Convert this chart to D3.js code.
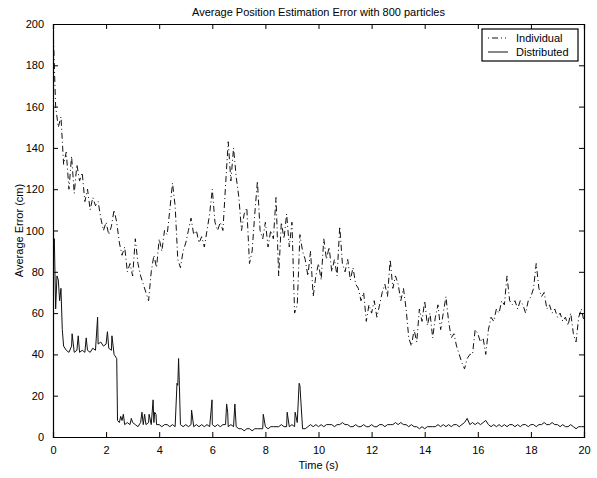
<!DOCTYPE html>
<html>
<head>
<meta charset="utf-8">
<script src="https://cdn.jsdelivr.net/npm/d3@7"></script>
<style>
  body { margin: 0; background: #fff; }
  text { font-family: "Liberation Sans", Arial, Helvetica, sans-serif; fill: #000; }
</style>
</head>
<body>
<script>
// Plot layout
var svgWidth = 597;
var svgHeight = 478;
var margin = {top: 24, right: 13, bottom: 41, left: 53};
var width = svgWidth - margin.left - margin.right;
var height = svgHeight - margin.top - margin.bottom;

// sample step of both series (s)
var step = 0.1;

// Individual filter error, one value every 0.1 s from 0 to 20 s
var individual = [
  200, 160, 150, 155, 132, 138, 120, 136, 118, 132,
  124, 128, 114, 120, 110, 116, 112, 114, 106, 100,
  104, 98, 102, 110, 104, 94, 88, 92, 80, 84,
  78, 96, 84, 78, 74, 70, 66, 80, 88, 82,
  96, 90, 100, 98, 110, 123, 112, 86, 82, 90,
  94, 100, 106, 98, 100, 94, 97, 92, 100, 108,
  120, 104, 100, 104, 100, 122, 143, 124, 140, 126,
  116, 100, 108, 111, 84, 90, 108, 124, 100, 96,
  104, 92, 100, 96, 116, 78, 104, 96, 108, 92,
  104, 60, 64, 98, 90, 86, 78, 90, 68, 78,
  84, 76, 96, 86, 92, 80, 86, 78, 102, 84,
  80, 86, 76, 82, 74, 72, 66, 70, 56, 64,
  60, 66, 58, 64, 70, 74, 68, 86, 72, 78,
  74, 66, 72, 62, 48, 44, 52, 46, 62, 56,
  66, 54, 60, 48, 58, 64, 52, 60, 68, 56,
  48, 50, 44, 40, 36, 33, 38, 40, 40, 52,
  50, 46, 48, 40, 52, 58, 56, 62, 60, 66,
  64, 78, 66, 64, 66, 62, 66, 64, 60, 66,
  68, 72, 84, 72, 68, 70, 62, 64, 60, 62,
  58, 60, 56, 58, 54, 60, 50, 46, 58, 62,
  56
];

// Distributed filter error, same sampling
var distributed = [
  92, 62, 76, 72, 44, 42, 41, 44, 41, 42,
  41, 42, 41, 42, 41, 43, 42, 45, 46, 44,
  45, 43, 42, 40, 38, 7, 8, 6, 7, 6,
  7, 6, 5, 7, 6, 6, 7, 6, 7, 6,
  6, 5, 6, 6, 5, 6, 5, 25, 6, 5,
  6, 5, 6, 5, 6, 5, 6, 5, 6, 5,
  6, 5, 6, 5, 6, 6, 5, 6, 5, 5,
  4, 4, 3, 4, 4, 3, 4, 4, 4, 4,
  5, 4, 5, 5, 5, 5, 6, 5, 5, 5,
  6, 5, 7, 25, 4, 4, 5, 6, 5, 6,
  5, 6, 5, 6, 6, 6, 5, 6, 6, 7,
  6, 6, 5, 5, 6, 5, 5, 6, 5, 5,
  6, 5, 5, 6, 6, 5, 6, 6, 6, 7,
  6, 7, 6, 6, 5, 6, 5, 5, 4, 5,
  4, 5, 5, 5, 5, 6, 5, 6, 5, 6,
  5, 6, 6, 5, 6, 7, 9, 6, 7, 6,
  7, 6, 7, 8, 6, 5, 6, 5, 6, 5,
  6, 5, 6, 6, 5, 6, 5, 6, 6, 5,
  6, 6, 5, 6, 6, 7, 6, 6, 7, 6,
  6, 5, 6, 5, 5, 6, 5, 4, 5, 5,
  5
];

// short spikes and steps of the distributed series between samples
var spikeTimes  = [0.05, 0.15, 0.25, 0.35, 0.72, 0.95, 1.25, 1.68, 2.05, 2.22,
                   2.43, 2.55, 2.65, 2.95, 3.35, 3.45, 3.62, 3.77, 3.83, 3.88,
                   4.67, 4.73, 4.76, 5.22, 5.99, 6.54, 6.58, 6.85, 7.92,
                   8.82, 9.12, 9.27];
var spikeValues = [96, 78, 66, 52, 50, 49, 48, 58, 51, 49,
                   8, 10, 11, 9, 12, 11, 11, 18, 12, 11,
                   26, 38, 25, 13, 18, 16, 12, 16, 11,
                   12, 12, 26];

var xTicks = [0, 2, 4, 6, 8, 10, 12, 14, 16, 18, 20];
var yTicks = [0, 20, 40, 60, 80, 100, 120, 140, 160, 180, 200];
var seriesNames = ["Individual", "Distributed"];

var svg = d3.select("body")
  .append("svg")
  .attr("width", svgWidth)
  .attr("height", svgHeight);

var chartGroup = svg.append("g")
  .attr("transform", `translate(${margin.left}, ${margin.top})`);

var xScale = d3.scaleLinear().domain([0, 20]).range([0, width]);
var yScale = d3.scaleLinear().domain([0, 200]).range([height, 0]);

// build point lists
var indPoints = individual.map((v, i) => [i * step, v]);
var distPoints = distributed.map((v, i) => [i * step, v]);
spikeTimes.forEach(function(t, i) {
  distPoints.push([t, spikeValues[i]]);
});
distPoints.sort((a, b) => a[0] - b[0]);

var line = d3.line()
  .x(d => xScale(d[0]))
  .y(d => yScale(d[1]));

chartGroup.append("clipPath").attr("id", "plotclip")
  .append("rect").attr("width", width).attr("height", height);

chartGroup.append("path")
  .datum(indPoints)
  .attr("clip-path", "url(#plotclip)")
  .attr("fill", "none")
  .attr("stroke", "#111")
  .attr("stroke-width", 1)
  .attr("stroke-dasharray", "6,3,1,3")
  .attr("d", line);

chartGroup.append("path")
  .datum(distPoints)
  .attr("clip-path", "url(#plotclip)")
  .attr("fill", "none")
  .attr("stroke", "#111")
  .attr("stroke-width", 1)
  .attr("d", line);

// axes, matlab style with inward ticks on all four sides
var tickLen = 5;
var bottomAxis = d3.axisBottom(xScale).tickValues(xTicks).tickSize(-tickLen).tickPadding(9);
var leftAxis = d3.axisLeft(yScale).tickValues(yTicks).tickSize(-tickLen).tickPadding(9);
var topAxis = d3.axisTop(xScale).tickValues(xTicks).tickSize(-tickLen).tickFormat("");
var rightAxis = d3.axisRight(yScale).tickValues(yTicks).tickSize(-tickLen).tickFormat("");

chartGroup.append("g")
  .attr("class", "axis")
  .attr("transform", `translate(0, ${height})`)
  .call(bottomAxis);
chartGroup.append("g")
  .attr("class", "axis")
  .call(leftAxis);
chartGroup.append("g")
  .attr("class", "axis")
  .call(topAxis);
chartGroup.append("g")
  .attr("class", "axis")
  .attr("transform", `translate(${width}, 0)`)
  .call(rightAxis);

chartGroup.selectAll(".axis path.domain").attr("stroke", "#000").attr("stroke-width", 1.2);
chartGroup.selectAll(".axis line").attr("stroke", "#000");
chartGroup.selectAll(".axis text")
  .style("font-size", "11px")
  .attr("fill", "#000");

// title and axis labels
svg.append("text")
  .attr("x", margin.left + width / 2)
  .attr("y", 16)
  .style("text-anchor", "middle")
  .style("font-size", "11px")
  .text("Average Position Estimation Error with 800 particles");

svg.append("text")
  .attr("x", margin.left + width / 2)
  .attr("y", 469)
  .style("text-anchor", "middle")
  .style("font-size", "11px")
  .text("Time (s)");

svg.append("text")
  .attr("transform", "rotate(-90)")
  .attr("x", -(margin.top + height / 2))
  .attr("y", 23)
  .style("text-anchor", "middle")
  .style("font-size", "11px")
  .text("Average Error (cm)");

// legend
var legend = svg.append("g").attr("transform", "translate(482, 29)");
legend.append("rect")
  .attr("width", 96)
  .attr("height", 32)
  .attr("fill", "#fff")
  .attr("stroke", "#000")
  .attr("stroke-width", 1.2);

legend.selectAll("line.key")
  .data(seriesNames)
  .enter()
  .append("line")
  .attr("class", "key")
  .attr("x1", 6)
  .attr("x2", 26)
  .attr("y1", (d, i) => 9 + i * 14)
  .attr("y2", (d, i) => 9 + i * 14)
  .attr("stroke", "#111")
  .attr("stroke-width", 1)
  .attr("stroke-dasharray", (d, i) => i === 0 ? "1,3,6,3,1,3" : null);

legend.selectAll("text.key")
  .data(seriesNames)
  .enter()
  .append("text")
  .attr("class", "key")
  .attr("x", 34)
  .attr("y", (d, i) => 13 + i * 14)
  .style("font-size", "11px")
  .text(d => d);
</script>
</body>
</html>
